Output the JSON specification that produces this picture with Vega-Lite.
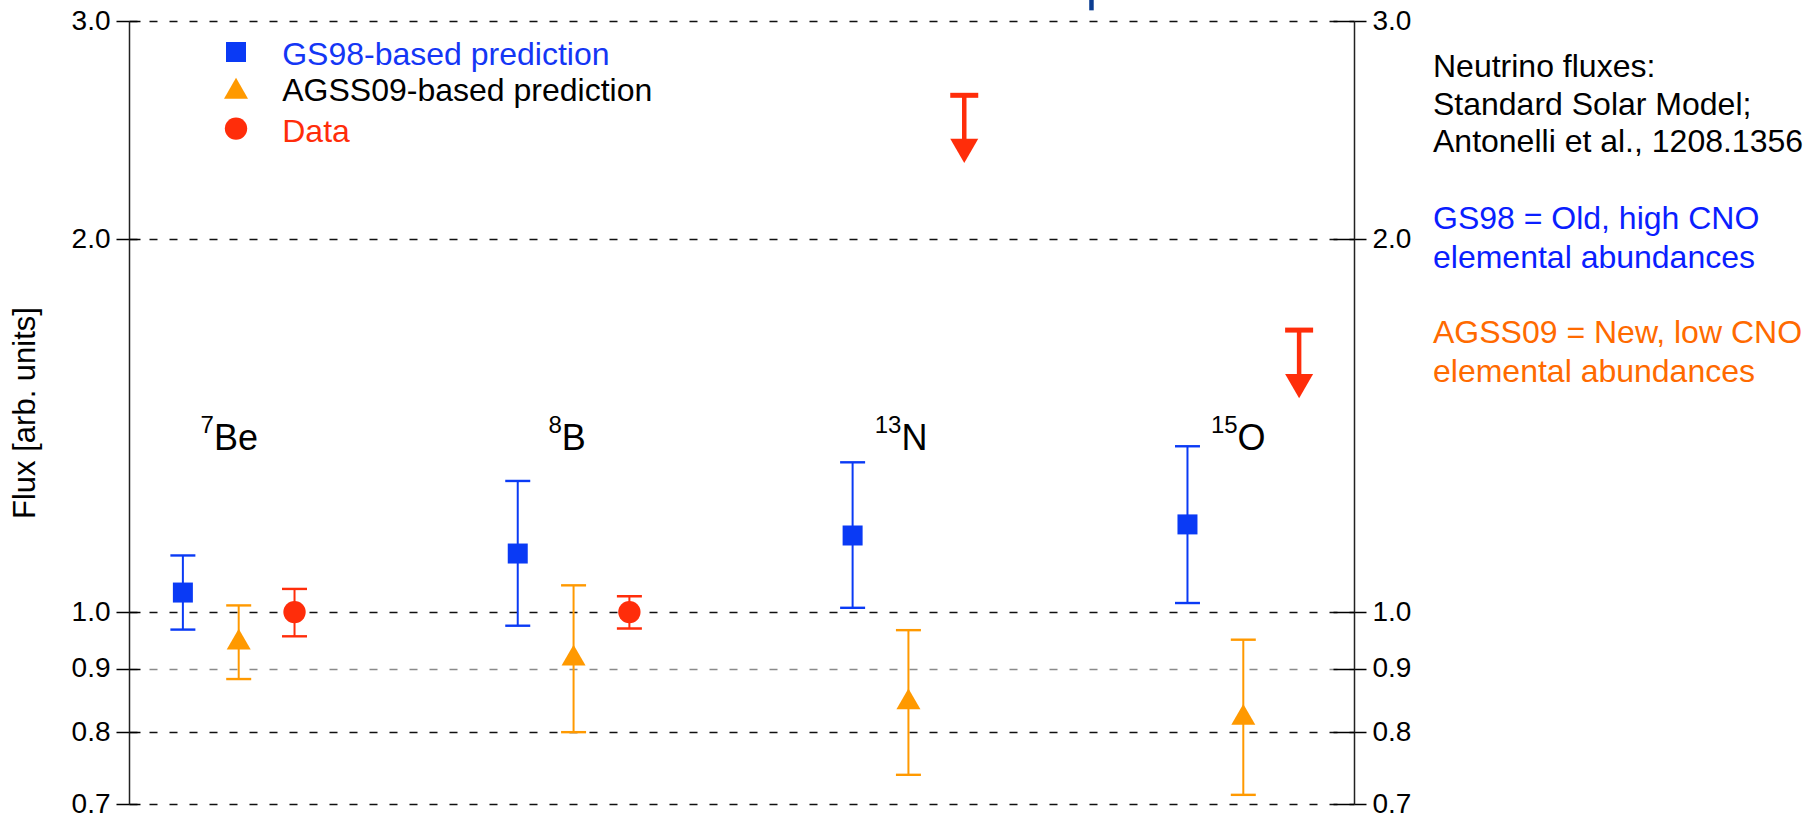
{
  "$schema": "https://vega.github.io/schema/vega-lite/v6.json",
  "width": 1225,
  "height": 783,
  "autosize": {"type": "none"},
  "padding": {"left": 129, "top": 21, "right": 451, "bottom": 11},
  "background": "white",
  "config": {
    "view": {"stroke": null},
    "font": "Liberation Sans",
    "axis": {
      "labelFont": "Liberation Sans",
      "titleFont": "Liberation Sans",
      "labelColor": "black",
      "titleColor": "black",
      "tickColor": "black",
      "tickWidth": 1.5,
      "domainColor": "#222222",
      "domainWidth": 1.5
    }
  },
  "datasets": {
    "flux": [
      {"iso": "7Be", "series": "GS98", "x": 0.8333, "y": 1.037, "lo": 0.968, "hi": 1.111},
      {"iso": "8B", "series": "GS98", "x": 1.8333, "y": 1.115, "lo": 0.975, "hi": 1.276},
      {"iso": "13N", "series": "GS98", "x": 2.8333, "y": 1.153, "lo": 1.008, "hi": 1.321},
      {"iso": "15O", "series": "GS98", "x": 3.8333, "y": 1.177, "lo": 1.017, "hi": 1.361},
      {"iso": "7Be", "series": "AGSS09", "x": 1.0, "y": 0.951, "lo": 0.883, "hi": 1.0125},
      {"iso": "8B", "series": "AGSS09", "x": 2.0, "y": 0.923, "lo": 0.8, "hi": 1.051},
      {"iso": "13N", "series": "AGSS09", "x": 3.0, "y": 0.851, "lo": 0.739, "hi": 0.967},
      {"iso": "15O", "series": "AGSS09", "x": 4.0, "y": 0.827, "lo": 0.712, "hi": 0.95},
      {"iso": "7Be", "series": "Data", "x": 1.1667, "y": 1.0, "lo": 0.956, "hi": 1.044},
      {"iso": "8B", "series": "Data", "x": 2.1667, "y": 1.0, "lo": 0.97, "hi": 1.03}
    ],
    "limits": [
      {"iso": "13N", "x": 3.1667, "limit": 2.613, "arrow_to": 2.357},
      {"iso": "15O", "x": 4.1667, "limit": 1.689, "arrow_to": 1.522}
    ],
    "key": [
      {"series": "GS98", "label": "GS98-based prediction", "ly": 2.832},
      {"series": "AGSS09", "label": "AGSS09-based prediction", "ly": 2.6475},
      {"series": "Data", "label": "Data", "ly": 2.4564}
    ],
    "isotopes": [
      {"sup": "7", "el": "Be", "x": 0.926},
      {"sup": "8", "el": "B", "x": 1.965},
      {"sup": "13", "el": "N", "x": 2.979},
      {"sup": "15", "el": "O", "x": 3.983}
    ]
  },
  "layer": [
    {
      "data": {"name": "flux"},
      "mark": {"type": "rule", "strokeWidth": 2},
      "encoding": {
        "x": {"field": "x", "type": "quantitative", "scale": {"domain": [0.6724, 4.3306]}, "axis": null},
        "y": {
          "field": "lo", "type": "quantitative",
          "scale": {"type": "log", "domain": [0.7, 3], "nice": false},
          "axis": {
            "orient": "left",
            "values": [0.7, 0.8, 0.9, 1, 2, 3],
            "format": ".1f",
            "tickSize": 13,
            "labelFontSize": 28,
            "labelPadding": 6,
            "title": "Flux [arb. units]",
            "titleFontSize": 31,
            "titleFontWeight": "normal",
            "titlePadding": 30,
            "grid": true,
            "gridDash": [8, 12],
            "gridWidth": 1.3,
            "gridColor": {"condition": {"test": "datum.value === 0.9", "value": "#8a8a8a"}, "value": "#111111"}
          }
        },
        "y2": {"field": "hi"},
        "color": {
          "field": "series", "type": "nominal",
          "scale": {"domain": ["GS98", "AGSS09", "Data"], "range": ["#0a3af5", "#ff9900", "#ff2d0a"]},
          "legend": null
        }
      }
    },
    {
      "data": {"name": "flux"},
      "mark": {"type": "tick", "orient": "horizontal", "size": 25, "thickness": 2.4, "opacity": 1},
      "encoding": {
        "x": {"field": "x", "type": "quantitative", "scale": {"domain": [0.6724, 4.3306]}, "axis": null},
        "y": {
          "field": "hi", "type": "quantitative",
          "scale": {"type": "log", "domain": [0.7, 3], "nice": false},
          "axis": {
            "orient": "right",
            "values": [0.7, 0.8, 0.9, 1, 2, 3],
            "format": ".1f",
            "tickSize": 12,
            "labelFontSize": 28,
            "labelPadding": 6,
            "title": null,
            "grid": false
          }
        },
        "color": {"field": "series", "type": "nominal", "legend": null}
      }
    },
    {
      "data": {"name": "flux"},
      "mark": {"type": "tick", "orient": "horizontal", "size": 25, "thickness": 2.4, "opacity": 1},
      "encoding": {
        "x": {"field": "x", "type": "quantitative", "scale": {"domain": [0.6724, 4.3306]}, "axis": null},
        "y": {
          "field": "lo", "type": "quantitative",
          "scale": {"type": "log", "domain": [0.7, 3], "nice": false},
          "axis": {
            "orient": "left",
            "values": [0.7, 0.8, 0.9, 1, 2, 3],
            "tickSize": -11,
            "labels": false,
            "domain": false,
            "title": null,
            "grid": false
          }
        },
        "color": {"field": "series", "type": "nominal", "legend": null}
      }
    },
    {
      "data": {"name": "flux"},
      "mark": {"type": "point", "filled": true, "opacity": 1, "strokeWidth": 0},
      "encoding": {
        "x": {"field": "x", "type": "quantitative", "scale": {"domain": [0.6724, 4.3306]}, "axis": null},
        "y": {
          "field": "y", "type": "quantitative",
          "scale": {"type": "log", "domain": [0.7, 3], "nice": false},
          "axis": {
            "orient": "right",
            "values": [0.7, 0.8, 0.9, 1, 2, 3],
            "tickSize": -21,
            "labels": false,
            "domain": false,
            "title": null,
            "grid": false
          }
        },
        "color": {"field": "series", "type": "nominal", "legend": null},
        "shape": {
          "field": "series", "type": "nominal",
          "scale": {"domain": ["GS98", "AGSS09", "Data"], "range": ["square", "triangle-up", "circle"]},
          "legend": null
        },
        "size": {
          "field": "series", "type": "nominal",
          "scale": {"type": "ordinal", "domain": ["GS98", "AGSS09", "Data"], "range": [400, 576, 500]},
          "legend": null
        }
      }
    },
    {
      "data": {"name": "limits"},
      "mark": {"type": "rule", "strokeWidth": 4.5, "color": "#ff2d0a"},
      "encoding": {
        "x": {"field": "x", "type": "quantitative", "scale": {"domain": [0.6724, 4.3306]}, "axis": null},
        "y": {"field": "limit", "type": "quantitative", "scale": {"type": "log", "domain": [0.7, 3], "nice": false}, "axis": null},
        "y2": {"field": "arrow_to"}
      }
    },
    {
      "data": {"name": "limits"},
      "mark": {"type": "tick", "orient": "horizontal", "size": 28, "thickness": 5, "opacity": 1, "color": "#ff2d0a"},
      "encoding": {
        "x": {"field": "x", "type": "quantitative", "scale": {"domain": [0.6724, 4.3306]}, "axis": null},
        "y": {"field": "limit", "type": "quantitative", "scale": {"type": "log", "domain": [0.7, 3], "nice": false}, "axis": null}
      }
    },
    {
      "data": {"name": "limits"},
      "mark": {"type": "point", "shape": "triangle-down", "filled": true, "opacity": 1, "size": 784, "strokeWidth": 0, "color": "#ff2d0a"},
      "encoding": {
        "x": {"field": "x", "type": "quantitative", "scale": {"domain": [0.6724, 4.3306]}, "axis": null},
        "y": {"field": "arrow_to", "type": "quantitative", "scale": {"type": "log", "domain": [0.7, 3], "nice": false}, "axis": null}
      }
    },
    {
      "data": {"name": "key"},
      "mark": {"type": "point", "filled": true, "opacity": 1, "strokeWidth": 0},
      "encoding": {
        "x": {"datum": 0.992, "type": "quantitative", "scale": {"domain": [0.6724, 4.3306]}, "axis": null},
        "y": {"field": "ly", "type": "quantitative", "scale": {"type": "log", "domain": [0.7, 3], "nice": false}, "axis": null},
        "color": {"field": "series", "type": "nominal", "legend": null},
        "shape": {
          "field": "series", "type": "nominal",
          "scale": {"domain": ["GS98", "AGSS09", "Data"], "range": ["square", "triangle-up", "circle"]},
          "legend": null
        },
        "size": {
          "field": "series", "type": "nominal",
          "scale": {"type": "ordinal", "domain": ["GS98", "AGSS09", "Data"], "range": [400, 576, 500]},
          "legend": null
        }
      }
    },
    {
      "data": {"name": "key"},
      "mark": {"type": "text", "align": "left", "baseline": "middle", "dy": 3, "fontSize": 32},
      "encoding": {
        "x": {"datum": 1.13, "type": "quantitative", "scale": {"domain": [0.6724, 4.3306]}, "axis": null},
        "y": {"field": "ly", "type": "quantitative", "scale": {"type": "log", "domain": [0.7, 3], "nice": false}, "axis": null},
        "text": {"field": "label"},
        "fill": {
          "field": "series", "type": "nominal",
          "scale": {"domain": ["GS98", "AGSS09", "Data"], "range": ["#1436f5", "#000000", "#ff2d0a"]},
          "legend": null
        }
      }
    },
    {
      "data": {"name": "isotopes"},
      "mark": {"type": "text", "align": "left", "baseline": "alphabetic", "fontSize": 36, "color": "black"},
      "encoding": {
        "x": {"field": "x", "type": "quantitative", "scale": {"domain": [0.6724, 4.3306]}, "axis": null},
        "y": {"datum": 1.351, "type": "quantitative", "scale": {"type": "log", "domain": [0.7, 3], "nice": false}, "axis": null},
        "text": {"field": "el"}
      }
    },
    {
      "data": {"name": "isotopes"},
      "mark": {"type": "text", "align": "right", "baseline": "alphabetic", "dy": -17, "fontSize": 24, "color": "black"},
      "encoding": {
        "x": {"field": "x", "type": "quantitative", "scale": {"domain": [0.6724, 4.3306]}, "axis": null},
        "y": {"datum": 1.351, "type": "quantitative", "scale": {"type": "log", "domain": [0.7, 3], "nice": false}, "axis": null},
        "text": {"field": "sup"}
      }
    },
    {
      "data": {"values": [{"note": "Neutrino fluxes:\nStandard Solar Model;\nAntonelli et al., 1208.1356"}]},
      "mark": {"type": "text", "align": "left", "baseline": "alphabetic", "fontSize": 32, "lineBreak": "\n", "lineHeight": 37.5, "color": "black"},
      "encoding": {
        "x": {"datum": 4.5665, "type": "quantitative", "scale": {"domain": [0.6724, 4.3306]}, "axis": null},
        "y": {"datum": 2.702, "type": "quantitative", "scale": {"type": "log", "domain": [0.7, 3], "nice": false}, "axis": null},
        "text": {"field": "note"}
      }
    },
    {
      "data": {"values": [{"note": "GS98 = Old, high CNO\nelemental abundances"}]},
      "mark": {"type": "text", "align": "left", "baseline": "alphabetic", "fontSize": 32, "lineBreak": "\n", "lineHeight": 38.5, "color": "#0a1eff"},
      "encoding": {
        "x": {"datum": 4.5665, "type": "quantitative", "scale": {"domain": [0.6724, 4.3306]}, "axis": null},
        "y": {"datum": 2.0373, "type": "quantitative", "scale": {"type": "log", "domain": [0.7, 3], "nice": false}, "axis": null},
        "text": {"field": "note"}
      }
    },
    {
      "data": {"values": [{"note": "AGSS09 = New, low CNO\nelemental abundances"}]},
      "mark": {"type": "text", "align": "left", "baseline": "alphabetic", "fontSize": 32, "lineBreak": "\n", "lineHeight": 38.5, "color": "#ff6a00"},
      "encoding": {
        "x": {"datum": 4.5665, "type": "quantitative", "scale": {"domain": [0.6724, 4.3306]}, "axis": null},
        "y": {"datum": 1.6484, "type": "quantitative", "scale": {"type": "log", "domain": [0.7, 3], "nice": false}, "axis": null},
        "text": {"field": "note"}
      }
    },
    {
      "data": {"values": [{"from": 3.06, "to": 3.14}]},
      "mark": {"type": "rule", "strokeWidth": 4.5, "color": "#0b3d91"},
      "encoding": {
        "x": {"datum": 3.5466, "type": "quantitative", "scale": {"domain": [0.6724, 4.3306]}, "axis": null},
        "y": {"field": "from", "type": "quantitative", "scale": {"type": "log", "domain": [0.7, 3], "nice": false}, "axis": null},
        "y2": {"field": "to"}
      }
    }
  ],
  "resolve": {"axis": {"y": "independent"}}
}
